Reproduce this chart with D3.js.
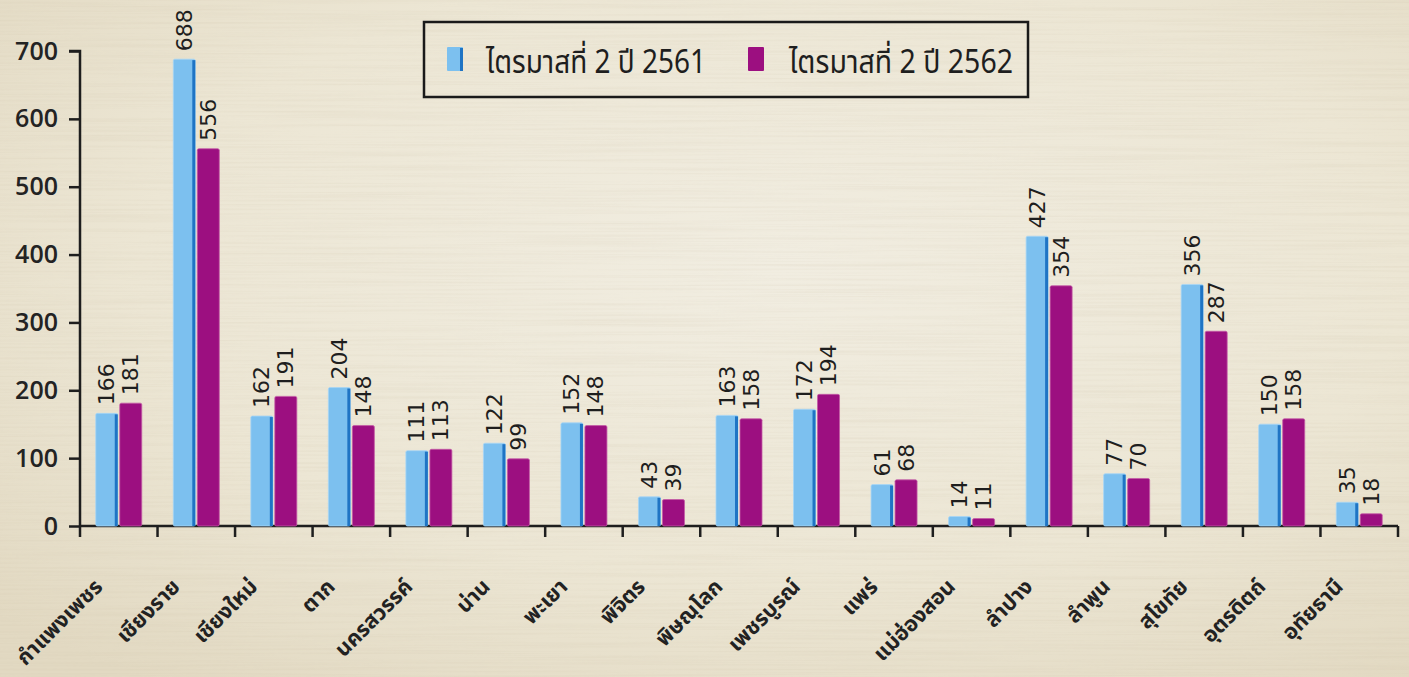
<!DOCTYPE html>
<html>
<head>
<meta charset="utf-8">
<script src="https://cdn.jsdelivr.net/npm/d3@7"></script>
<style>
  html, body { margin: 0; padding: 0; background: #ebe4d0; }
  svg { display: block; }
</style>
</head>
<body>
<div id="chart"></div>
<script>
// data
var provinces = ["กำแพงเพชร", "เชียงราย", "เชียงใหม่", "ตาก", "นครสวรรค์", "น่าน", "พะเยา", "พิจิตร",
  "พิษณุโลก", "เพชรบูรณ์", "แพร่", "แม่ฮ่องสอน", "ลำปาง", "ลำพูน", "สุโขทัย", "อุตรดิตถ์", "อุทัยธานี"];
var q2y2561 = [166, 688, 162, 204, 111, 122, 152, 43, 163, 172, 61, 14, 427, 77, 356, 150, 35];
var q2y2562 = [181, 556, 191, 148, 113, 99, 148, 39, 158, 194, 68, 11, 354, 70, 287, 158, 18];
var seriesNames = ["ไตรมาสที่ 2 ปี 2561", "ไตรมาสที่ 2 ปี 2562"];
var yTicks = [0, 100, 200, 300, 400, 500, 600, 700];

var svgWidth = 1409, svgHeight = 677;
var margin = { top: 51, right: 11, bottom: 151, left: 80 };
var width = svgWidth - margin.left - margin.right;
var height = svgHeight - margin.top - margin.bottom;

var thaiFont = "'Noto Sans Thai', 'Noto Sans Thai UI', 'Noto Sans', 'DejaVu Sans', sans-serif";
var numFont = "'DejaVu Sans', Verdana, sans-serif";

var svg = d3.select("#chart").append("svg")
  .attr("width", svgWidth)
  .attr("height", svgHeight);

// wood-ish background
var defs = svg.append("defs");
var grad = defs.append("radialGradient").attr("id", "bg")
  .attr("cx", "55%").attr("cy", "40%").attr("r", "75%");
grad.append("stop").attr("offset", "0%").attr("stop-color", "#f1ede1");
grad.append("stop").attr("offset", "60%").attr("stop-color", "#ece6d4");
grad.append("stop").attr("offset", "100%").attr("stop-color", "#e2d9c2");

var grain = defs.append("filter").attr("id", "grain")
  .attr("x", 0).attr("y", 0).attr("width", "100%").attr("height", "100%");
grain.append("feTurbulence").attr("type", "fractalNoise")
  .attr("baseFrequency", "0.004 0.45").attr("numOctaves", 3).attr("seed", 7);
grain.append("feColorMatrix").attr("type", "matrix")
  .attr("values", "0 0 0 0 0.55  0 0 0 0 0.47  0 0 0 0 0.33  0 0 0 1.1 -0.45");

svg.append("rect").attr("width", svgWidth).attr("height", svgHeight).attr("fill", "url(#bg)");
svg.append("rect").attr("width", svgWidth).attr("height", svgHeight)
  .attr("filter", "url(#grain)").attr("opacity", 0.25);

var chartGroup = svg.append("g")
  .attr("transform", `translate(${margin.left}, ${margin.top})`);

// scales
var x0 = d3.scaleBand().domain(provinces).range([0, width]).padding(0);
var yScale = d3.scaleLinear().domain([0, 700]).range([height, 0]);

var barW = 22, gap = 2;
var colors = ["#7cc0ef", "#9c0f80"];

// axes
var leftAxis = d3.axisLeft(yScale).tickValues(yTicks).tickSize(11).tickPadding(11);
var yAxisG = chartGroup.append("g").call(leftAxis);
yAxisG.select(".domain").attr("d", `M-11,0H0V${height}`).attr("stroke", "#1e1e1e").attr("stroke-width", 2.5);
yAxisG.selectAll(".tick line").attr("stroke", "#1e1e1e").attr("stroke-width", 2.5);
yAxisG.selectAll(".tick text")
  .attr("font-family", "'Open Sans', 'DejaVu Sans', sans-serif")
  .attr("font-weight", 600)
  .attr("font-size", "25px")
  .attr("fill", "#232323");

// x axis: line with ticks on category boundaries
var xAxisG = chartGroup.append("g").attr("transform", `translate(0, ${height})`);
xAxisG.append("line").attr("x1", 0).attr("x2", width).attr("y1", 0).attr("y2", 0)
  .attr("stroke", "#1e1e1e").attr("stroke-width", 2.5);
var boundaries = provinces.map(d => x0(d)).concat([width]);
xAxisG.selectAll(".xtick").data(boundaries).enter().append("line")
  .attr("class", "xtick")
  .attr("x1", d => d).attr("x2", d => d)
  .attr("y1", 0).attr("y2", 11)
  .attr("stroke", "#1e1e1e").attr("stroke-width", 2.5);

xAxisG.selectAll(".xlabel").data(provinces).enter().append("text")
  .attr("class", "xlabel")
  .attr("transform", d => `translate(${x0(d) + x0.bandwidth() / 2 - 15}, 62) rotate(-45)`)
  .attr("text-anchor", "end")
  .attr("font-family", thaiFont)
  .attr("font-weight", 700)
  .attr("font-size", "21.5px")
  .attr("fill", "#222")
  .text(d => d);

// bars
var series = [q2y2561, q2y2562];
series.forEach(function(vals, si) {
  var xOff = si === 0 ? -(barW + gap / 2) : gap / 2;
  var g = chartGroup.append("g");
  var bars = g.selectAll("g.bar").data(provinces.map((p, i) => ({ p: p, v: vals[i] })))
    .enter().append("g").attr("class", "bar");

  bars.append("rect")
    .attr("x", d => x0(d.p) + x0.bandwidth() / 2 + xOff)
    .attr("y", d => yScale(d.v))
    .attr("width", barW)
    .attr("height", d => height - yScale(d.v))
    .attr("rx", 1.5)
    .attr("fill", colors[si])
    .attr("stroke", si === 0 ? "#a7d6f6" : "#c45aa6")
    .attr("stroke-width", 0.8);

  if (si === 0) {
    // darker blue right edge
    bars.append("rect")
      .attr("x", d => x0(d.p) + x0.bandwidth() / 2 + xOff + barW - 3)
      .attr("y", d => yScale(d.v) + 1)
      .attr("width", 3)
      .attr("height", d => height - yScale(d.v) - 1)
      .attr("fill", "#1f74c4");
  }

  bars.append("text")
    .attr("transform", d => `translate(${x0(d.p) + x0.bandwidth() / 2 + xOff + barW / 2}, ${yScale(d.v) - 8}) rotate(-90)`)
    .attr("text-anchor", "start")
    .attr("dominant-baseline", "central")
    .attr("font-family", numFont)
    .attr("font-size", "22px")
    .attr("fill", "#1e1e1e")
    .text(d => d.v);
});

// legend
var legend = svg.append("g");
legend.append("rect")
  .attr("x", 424).attr("y", 22).attr("width", 604).attr("height", 75)
  .attr("fill", "none").attr("stroke", "#1a1a1a").attr("stroke-width", 2.5);

var legendPos = [{ sx: 447, tx: 486, len: 220 }, { sx: 748, tx: 789, len: 224 }];
seriesNames.forEach(function(name, i) {
  legend.append("rect")
    .attr("x", legendPos[i].sx).attr("y", 47).attr("width", 16).attr("height", 24)
    .attr("rx", 1).attr("fill", colors[i]);
  if (i === 0) {
    legend.append("rect")
      .attr("x", legendPos[i].sx + 13).attr("y", 48).attr("width", 3).attr("height", 23)
      .attr("fill", "#1f74c4");
  }
  legend.append("text")
    .attr("x", legendPos[i].tx).attr("y", 73)
    .attr("font-family", thaiFont)
    .attr("font-size", "32px")
    .attr("fill", "#1e1e1e")
    .attr("textLength", legendPos[i].len)
    .attr("lengthAdjust", "spacingAndGlyphs")
    .text(name);
});
</script>
</body>
</html>
